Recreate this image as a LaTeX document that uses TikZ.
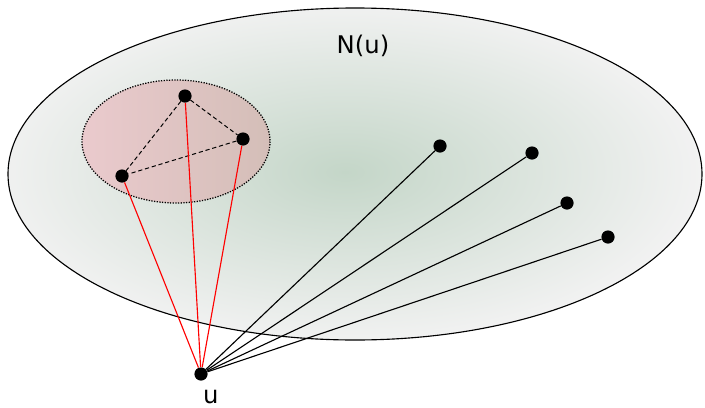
\documentclass[tikz,border=0pt]{standalone}
\usepackage{fontspec}
\setmainfont{DejaVu Sans}
\usetikzlibrary{positioning}
\definecolor{nucenter}{RGB}{196,214,200}
\definecolor{nuedge}{RGB}{242,242,242}
\definecolor{clleft}{RGB}{234,202,205}
\definecolor{clright}{RGB}{212,190,184}
\begin{document}
\begin{tikzpicture}[x=0.025cm, y=-0.025cm, font=\LARGE]
	\tikzset{
		vertex/.style={circle, fill=black, inner sep=0pt, minimum size=0.33cm},
		redge/.style={red, line width=0.8pt},
		bedge/.style={black, line width=0.8pt},
		dedge/.style={black, densely dashed, line width=0.7pt}
	}
	\useasboundingbox (0,0) rectangle (705,408);
	
	% Vùng lân cận N(u)
	\begin{scope}
		\clip (355,174) ellipse [x radius=347, y radius=166];
		\shade[inner color=nucenter, outer color=nuedge] (345,172) ellipse [x radius=357, y radius=172];
	\end{scope}
	\draw[line width=0.8pt] (355,174) ellipse [x radius=347, y radius=166];
	\node (Nu) at (363,46) {N(u)};
	
	% Cụm con (tam giác)
	\shade[left color=clleft, right color=clright] (176,141.5) ellipse [x radius=94, y radius=61.5];
	\draw[densely dotted, line width=0.9pt] (176,141.5) ellipse [x radius=94, y radius=61.5];
	
	% Các đỉnh
	\node[vertex] (a) at (185,96) {};
	\node[vertex] (b) at (243,139) {};
	\node[vertex] (c) at (122,176) {};
	\node[vertex] (p) at (440,146) {};
	\node[vertex] (q) at (532,153) {};
	\node[vertex] (r) at (567,203) {};
	\node[vertex] (s) at (608,237) {};
	\node[vertex] (u) at (201,374) {};
	\node[below=3pt of u, xshift=7pt] (ul) {u};
	
	% Cạnh trong cụm
	\draw[dedge] (a) -- (b);
	\draw[dedge] (a) -- (c);
	\draw[dedge] (b) -- (c);
	
	% Cạnh từ u
	\foreach \v in {a,b,c} \draw[redge] (u) -- (\v);
	\foreach \v in {p,q,r,s} \draw[bedge] (u) -- (\v);
\end{tikzpicture}
\end{document}
